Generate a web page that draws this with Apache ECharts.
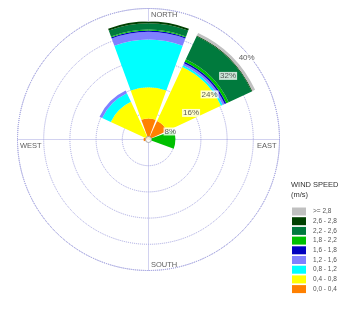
<!DOCTYPE html>
<html><head><meta charset="utf-8">
<script src="https://cdn.jsdelivr.net/npm/echarts@6/dist/echarts.min.js"></script>
<style>html,body{margin:0;padding:0;background:#fff}#c{width:345px;height:320px}</style>
</head><body><div id="c"></div>
<script>
// ---- data ----
const directions = ['N', 'NE', 'E', 'SE', 'S', 'SW', 'W', 'NW'];
const speedBins = ['0,0 - 0,4', '0,4 - 0,8', '0,8 - 1,2', '1,2 - 1,6', '1,6 - 1,8', '1,8 - 2,2', '2,2 - 2,6', '2,6 - 2,8', '>= 2,8'];
const binColors = ['#ff8000', '#ffff00', '#00ffff', '#8080ff', '#0000c0', '#00c000', '#007a3d', '#004000', '#c0c0c0'];
// percent per direction (N, NE, E, SE, S, SW, W, NW)
const speed00_04 = [6.4, 6.2, 0, 0, 0, 0, 1.5, 1.0];
const speed04_08 = [9.5, 18.2, 0, 0, 0, 0, 0, 11.7];
const speed08_12 = [14.6, 0.6, 0, 0, 0, 0, 0, 2.9];
const speed12_16 = [2.3, 0.7, 0, 0, 0, 0, 0, 0.9];
const speed16_18 = [0.4, 0.5, 0, 0, 0, 0, 0, 0];
const speed18_22 = [0.3, 0.8, 8.2, 0, 0, 0, 0, 0];
const speed22_26 = [1.9, 7.8, 0, 0, 0, 0, 0, 0];
const speed26_28 = [0.6, 0.2, 0, 0, 0, 0, 0, 0];
const speed28_up = [0, 0.9, 0, 0, 0, 0, 0, 0];
const binValues = [speed00_04, speed04_08, speed08_12, speed12_16, speed16_18, speed18_22, speed22_26, speed26_28, speed28_up];
const ringValues = [8, 16, 24, 32, 40];
const ringLabels = ['8%', '16%', '24%', '32%', '40%'];
const compassLabels = ['NORTH', 'EAST', 'SOUTH', 'WEST'];
const compassAngles = [0, 90, 180, 270];

// ---- chart ----
const FONT = 'Liberation Sans, Arial, sans-serif';
const gridLine = { color: '#a4a4e0', type: 'dotted', width: 1 };
const chart = echarts.init(document.getElementById('c'), null, { renderer: 'canvas' });

const compassPos = [[3, 7, 'left'], [-2.5, 7, 'right'], [3, -5.5, 'left'], [3, 6.5, 'left']];

const barSeries = speedBins.map((name, i) => ({
  name: name,
  type: 'bar',
  coordinateSystem: 'polar',
  polarIndex: 0,
  stack: 'wind',
  barCategoryGap: '11%',
  itemStyle: { color: binColors[i] },
  data: binValues[i],
  z: 2
}));

const option = {
  animation: false,
  backgroundColor: '#fff',
  title: {
    text: 'WIND SPEED\n(m/s)',
    left: 291, top: 180, padding: 0,
    textStyle: { fontSize: 7.5, lineHeight: 10, fontWeight: 'normal', color: '#333', fontFamily: FONT }
  },
  legend: {
    orient: 'vertical', left: 292, top: 207.5, padding: 0,
    itemWidth: 14, itemHeight: 8, itemGap: 1.7, icon: 'rect', selectedMode: false,
    textStyle: { fontSize: 6.5, lineHeight: 8, color: '#555', fontFamily: FONT, padding: [0, 0, 0, 2] },
    data: speedBins.slice().reverse()
  },
  polar: [
    { center: [148.5, 139.5], radius: 131 },
    { center: [148.5, 139.5], radius: 131 }
  ],
  angleAxis: [
    { polarIndex: 0, type: 'category', data: directions, startAngle: 112.5, clockwise: true, boundaryGap: true,
      axisLine: { show: false }, axisTick: { show: false }, axisLabel: { show: false }, splitLine: { show: false } },
    { polarIndex: 1, type: 'value', min: 0, max: 360, interval: 90, startAngle: 90, clockwise: true,
      axisLine: { show: true, lineStyle: gridLine }, axisTick: { show: false }, axisLabel: { show: false },
      splitLine: { show: true, lineStyle: gridLine } }
  ],
  radiusAxis: [
    { polarIndex: 0, min: 0, max: 40, axisLine: { show: false }, axisTick: { show: false }, axisLabel: { show: false }, splitLine: { show: false } },
    { polarIndex: 1, min: 0, max: 40, interval: 8, axisLine: { show: false }, axisTick: { show: false }, axisLabel: { show: false },
      splitLine: { show: true, lineStyle: gridLine } }
  ],
  series: barSeries.concat([
    {
      type: 'scatter', coordinateSystem: 'polar', polarIndex: 1, silent: true, z: 5,
      symbolSize: 1, itemStyle: { color: 'transparent' },
      data: ringValues.map((v, i) => ({
        value: [v, 45],
        label: {
          show: true, formatter: ringLabels[i], position: [-3, 11], align: 'left', verticalAlign: 'middle',
          fontSize: 8, color: '#333', fontFamily: FONT, backgroundColor: '#fff', padding: [0, 1]
        }
      }))
    },
    {
      type: 'scatter', coordinateSystem: 'polar', polarIndex: 1, silent: true, z: 5,
      symbolSize: 1, itemStyle: { color: 'transparent' },
      data: compassLabels.map((t, i) => ({
        value: [40, compassAngles[i]],
        label: {
          show: true, formatter: t, position: [compassPos[i][0], compassPos[i][1]], align: compassPos[i][2], verticalAlign: 'middle',
          fontSize: 7.5, color: '#333', fontFamily: FONT
        }
      }))
    },
    {
      type: 'scatter', coordinateSystem: 'polar', polarIndex: 1, silent: true, z: 6,
      symbol: 'circle', symbolSize: 6, itemStyle: { color: '#fff', borderColor: '#999', borderWidth: 1 },
      data: [[0, 0]]
    }
  ])
};
chart.setOption(option);
</script>
</body></html>
